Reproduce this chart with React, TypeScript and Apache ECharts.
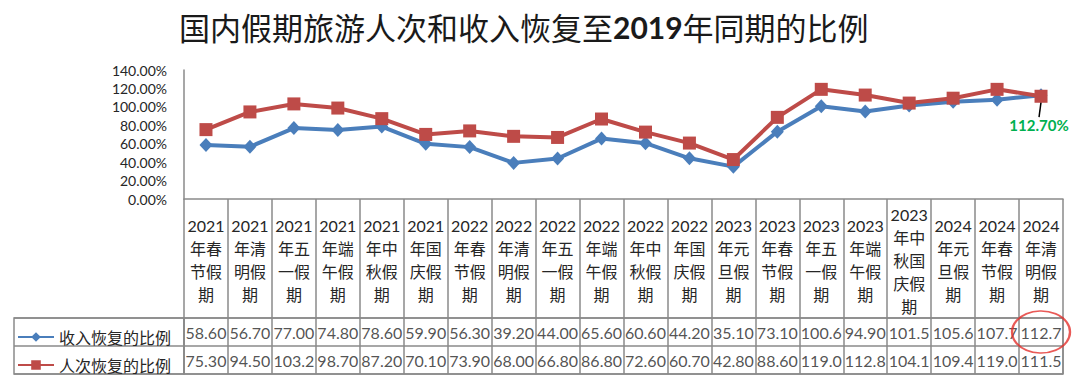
import React, { useEffect, useRef } from "react";
import * as echarts from "echarts";

const categories = [
  "2021年春节假期", "2021年清明假期", "2021年五一假期", "2021年端午假期", "2021年中秋假期",
  "2021年国庆假期", "2022年春节假期", "2022年清明假期", "2022年五一假期", "2022年端午假期",
  "2022年中秋假期", "2022年国庆假期", "2023年元旦假期", "2023年春节假期", "2023年五一假期",
  "2023年端午假期", "2023年中秋国庆假期", "2024年元旦假期", "2024年春节假期", "2024年清明假期",
];
const incomeName = "收入恢复的比例";
const visitorName = "人次恢复的比例";
const income = [58.6, 56.7, 77.0, 74.8, 78.6, 59.9, 56.3, 39.2, 44.0, 65.6, 60.6, 44.2, 35.1, 73.1, 100.6, 94.9, 101.5, 105.6, 107.7, 112.7];
const visitors = [75.3, 94.5, 103.2, 98.7, 87.2, 70.1, 73.9, 68.0, 66.8, 86.8, 72.6, 60.7, 42.8, 88.6, 119.0, 112.8, 104.1, 109.4, 119.0, 111.5];
const yTicks = { min: 0, max: 140, interval: 20 };
const highlightIndex = 19;
const highlightLabel = "112.70%";

const FONT = "Lato, 'Noto Sans CJK SC', sans-serif";
const BORDER = "#8a8a8a";
const TEXT = "#262626";
const BLUE = "#4A7EBB";
const RED = "#BE4B48";

function wrapCategory(s: string): string {
  const year = s.slice(0, 4);
  const rest = s.slice(4);
  const parts: string[] = [year];
  for (let i = 0; i < rest.length; i += 2) parts.push(rest.slice(i, i + 2));
  return parts.join("\n");
}

function fmtCell(v: number): string {
  return v >= 100 ? v.toFixed(1) : v.toFixed(2);
}

export default function App() {
  const ref = useRef<HTMLDivElement>(null);
  useEffect(() => {
    if (!ref.current) return;
    const chart = echarts.init(ref.current, undefined, { renderer: "svg" });
    const rows = [incomeName, visitorName];
    const cellData = [
      ...income.map((v, i) => [i, 0, v]),
      ...visitors.map((v, i) => [i, 1, v]),
    ];
    chart.setOption({
      animation: false,
      backgroundColor: "#ffffff",
      title: {
        text: "{a|国内假期旅游人次和收入恢复至}{b|2019}{a|年同期的比例}",
        left: 174,
        top: 6,
        textStyle: {
          rich: {
            a: { fontFamily: "'Noto Sans CJK SC', sans-serif", fontSize: 31, color: "#1a1a1a", fontWeight: "normal" },
            b: { fontFamily: "Lato, sans-serif", fontSize: 30, color: "#1a1a1a", fontWeight: "bold" },
          },
        },
      },
      legend: {
        data: [incomeName, visitorName],
        orient: "vertical",
        left: 12,
        top: 324,
        itemWidth: 36,
        itemHeight: 12,
        itemGap: 12,
        textStyle: { fontFamily: FONT, fontSize: 16, color: TEXT, lineHeight: 16 },
      },
      grid: [
        { left: 184, top: 70, width: 879, height: 129 },
        { left: 184, top: 318, width: 879, height: 56, show: true, borderColor: BORDER, borderWidth: 1.5, backgroundColor: "transparent" },
        { left: 14, top: 318, width: 170, height: 56, show: true, borderColor: BORDER, borderWidth: 1.5, backgroundColor: "transparent" },
      ],
      xAxis: [
        {
          type: "category",
          gridIndex: 0,
          data: categories,
          boundaryGap: true,
          axisLine: { lineStyle: { color: BORDER, width: 1.5 } },
          axisTick: { show: true, interval: 0, length: 119, lineStyle: { color: BORDER, width: 1.5 } },
          axisLabel: {
            interval: 0,
            formatter: (v: string) => wrapCategory(v),
            fontFamily: FONT,
            fontSize: 16,
            lineHeight: 23,
            color: TEXT,
            verticalAlign: "middle",
            margin: 61,
          },
        },
        {
          type: "category",
          gridIndex: 1,
          data: categories,
          boundaryGap: true,
          axisLine: { show: false },
          axisTick: { show: false },
          axisLabel: { show: false },
          splitLine: { show: true, interval: 0, lineStyle: { color: BORDER, width: 1.5 } },
        },
        { type: "value", gridIndex: 2, show: false },
      ],
      yAxis: [
        {
          type: "value",
          gridIndex: 0,
          min: yTicks.min,
          max: yTicks.max,
          interval: yTicks.interval,
          axisLine: { show: true, lineStyle: { color: BORDER, width: 1.5 } },
          axisTick: { show: false },
          splitLine: { show: false },
          axisLabel: {
            formatter: (v: number) => v.toFixed(2) + "%",
            fontFamily: FONT,
            fontSize: 14,
            color: TEXT,
            margin: 17,
          },
        },
        {
          type: "category",
          gridIndex: 1,
          data: rows,
          inverse: true,
          axisLine: { show: false },
          axisTick: { show: false },
          axisLabel: { show: false },
          splitLine: { show: true, interval: 0, lineStyle: { color: BORDER, width: 1.5 } },
        },
        {
          type: "category",
          gridIndex: 2,
          data: rows,
          inverse: true,
          axisLine: { show: false },
          axisTick: { show: false },
          axisLabel: { show: false },
          splitLine: { show: true, interval: 0, lineStyle: { color: BORDER, width: 1.5 } },
        },
      ],
      series: [
        {
          name: incomeName,
          type: "line",
          xAxisIndex: 0,
          yAxisIndex: 0,
          data: income.map((v, i) =>
            i === highlightIndex
              ? {
                  value: v,
                  label: {
                    show: true,
                    position: "bottom",
                    distance: 6,
                    formatter: highlightLabel,
                    color: "#00B050",
                    fontWeight: "bold",
                    fontSize: 15,
                    fontFamily: FONT,
                  },
                  labelLine: { show: true, lineStyle: { color: "#000", width: 1.5 } },
                }
              : v
          ),
          symbol: "diamond",
          symbolSize: [13, 14],
          lineStyle: { color: BLUE, width: 4 },
          itemStyle: { color: BLUE },
          labelLayout: (p: any) => (p.dataIndex === highlightIndex ? { dy: 9, dx: -2 } : {}),
          z: 3,
        },
        {
          name: visitorName,
          type: "line",
          xAxisIndex: 0,
          yAxisIndex: 0,
          data: visitors,
          symbol: "rect",
          symbolSize: 13,
          lineStyle: { color: RED, width: 4 },
          itemStyle: { color: RED },
          z: 4,
        },
        {
          name: "table",
          type: "scatter",
          xAxisIndex: 1,
          yAxisIndex: 1,
          data: cellData,
          symbolSize: 1,
          silent: true,
          itemStyle: { color: "rgba(0,0,0,0)" },
          label: {
            show: true,
            position: "inside",
            formatter: (p: any) => fmtCell(p.value[2]),
            fontFamily: FONT,
            fontSize: 16,
            color: TEXT,
          },
        },
        {
          name: "mark",
          type: "scatter",
          xAxisIndex: 1,
          yAxisIndex: 1,
          data: [[highlightIndex, 0]],
          symbol: "circle",
          symbolSize: [58, 42],
          silent: true,
          clip: false,
          itemStyle: { color: "rgba(0,0,0,0)", borderColor: "#E3312D", borderWidth: 2 },
          z: 10,
        },
      ],
    });
    return () => chart.dispose();
  }, []);
  return <div ref={ref} style={{ position: "fixed", left: 0, top: 0, width: 1080, height: 379 }} />;
}
